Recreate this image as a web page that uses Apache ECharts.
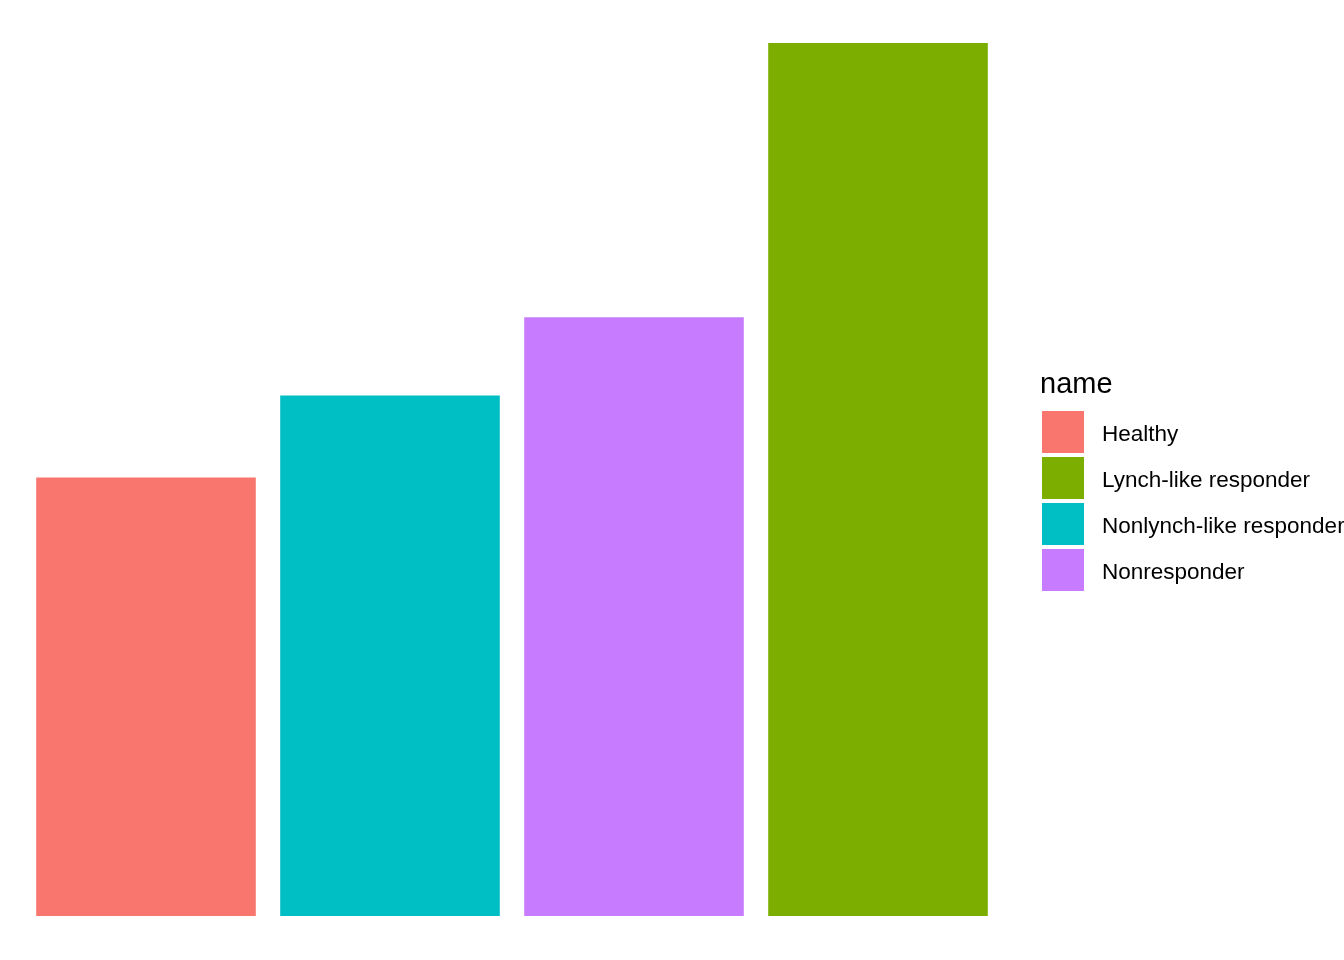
<!DOCTYPE html>
<html>
<head>
<meta charset="utf-8">
<script src="https://cdn.jsdelivr.net/npm/echarts@6/dist/echarts.min.js"></script>
<style>html,body{margin:0;padding:0;background:#fff}#c{width:1344px;height:960px}</style>
</head>
<body>
<div id="c"></div>
<script>
// Bar order on x axis (sorted by value)
const categories = ['Healthy', 'Nonlynch-like responder', 'Nonresponder', 'Lynch-like responder'];
const values = [438, 520, 598, 872];
// Legend order (alphabetical)
const legendNames = ['Healthy', 'Lynch-like responder', 'Nonlynch-like responder', 'Nonresponder'];
const colors = {
  'Healthy': '#F8766D',
  'Lynch-like responder': '#7CAE00',
  'Nonlynch-like responder': '#00BFC4',
  'Nonresponder': '#C77CFF'
};

const chart = echarts.init(document.getElementById('c'), null, {renderer: 'canvas'});
const series = legendNames.map(name => ({
  name: name,
  type: 'bar',
  stack: 'all',
  barWidth: '90%',
  itemStyle: {color: colors[name]},
  data: categories.map((c, i) => c === name ? values[i] : null),
  emphasis: {disabled: true}
}));
chart.setOption({
  animation: false,
  backgroundColor: '#ffffff',
  title: {
    text: 'name',
    left: 1040, top: 370, padding: 0,
    textStyle: {fontFamily: 'Liberation Sans, Arial', fontSize: 29, fontWeight: 'normal', color: '#000'}
  },
  legend: {
    data: legendNames,
    orient: 'vertical',
    left: 1042, top: 411, padding: 0,
    itemWidth: 42, itemHeight: 42, itemGap: 4,
    icon: 'rect',
    formatter: '{t|{name}}',
    textStyle: {
      fontFamily: 'Liberation Sans, Arial', fontSize: 22.5, color: '#000',
      rich: {t: {fontFamily: 'Liberation Sans, Arial', fontSize: 22.5, color: '#000', padding: [6, 0, 0, 13]}}
    },
    selectedMode: false
  },
  grid: {left: 24, width: 976, top: 43, bottom: 44},
  xAxis: {type: 'category', data: categories, show: false},
  yAxis: {type: 'value', min: 0, max: 872, show: false},
  series: series
});
</script>
</body>
</html>
